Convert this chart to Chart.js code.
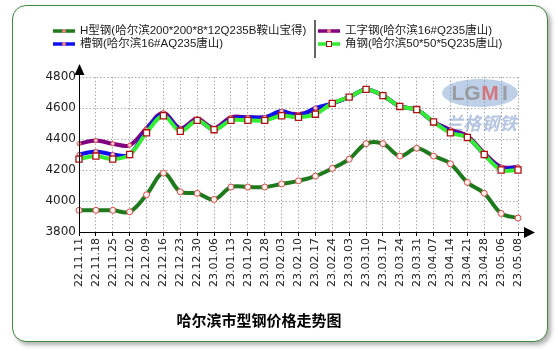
<!DOCTYPE html>
<html lang="zh">
<head>
<meta charset="UTF-8">
<title>哈尔滨市型钢价格走势图</title>
<style>
  html, body { margin: 0; padding: 0; background: #fff; }
  #frame {
    position: absolute; left: 12px; top: 5px; width: 536px; height: 337px;
    box-sizing: border-box; border: 1.5px solid #3c8a3c; border-radius: 14px;
    box-shadow: 3px 3px 4px #b0b0b0; background: #fff;
  }
  #wrap { position: absolute; left: 0; top: 0; width: 558px; height: 351px; }
</style>
</head>
<body>
<div id="frame"></div>
<div id="wrap"><canvas id="chart" width="558" height="351"></canvas></div>

<script src="https://cdn.jsdelivr.net/npm/chart.js@4.4.0/dist/chart.umd.min.js"></script>
<script>
var labels = ['22.11.11','22.11.18','22.11.25','22.12.02','22.12.09','22.12.16','22.12.23','22.12.30',
  '23.01.06','23.01.13','23.01.20','23.01.28','23.02.03','23.02.10','23.02.17','23.02.24',
  '23.03.03','23.03.10','23.03.17','23.03.24','23.03.31','23.04.07','23.04.14','23.04.21',
  '23.04.28','23.05.06','23.05.08'];

var hBeam   = [3940,3940,3940,3930,4040,4180,4060,4050,4010,4090,4090,4090,4110,4130,4160,4210,4270,4370,4370,4290,4340,4290,4240,4120,4050,3920,3890];
var iBeam   = [4370,4390,4370,4360,4470,4570,4470,4530,4470,4540,4540,4540,4570,4560,4590,4630,4670,4720,4680,4610,4590,4510,4460,4420,4310,4220,4220];
var channel = [4300,4320,4300,4300,4460,4560,4460,4520,4460,4530,4540,4540,4580,4550,4600,4630,4670,4720,4680,4610,4590,4510,4450,4410,4300,4210,4220];
var angle   = [4270,4290,4270,4300,4440,4550,4450,4520,4460,4520,4520,4520,4550,4540,4560,4630,4670,4720,4680,4610,4590,4510,4440,4410,4300,4200,4200];

var names = ['H型钢(哈尔滨200*200*8*12Q235B鞍山宝得)', '工字钢(哈尔滨16#Q235唐山)', '槽钢(哈尔滨16#AQ235唐山)', '角钢(哈尔滨50*50*5Q235唐山)'];
var yTicks = [3800, 4000, 4200, 4400, 4600, 4800];

function series(label, data, color, order, style) {
  var ds = {
    label: label, data: data, borderColor: color, borderWidth: 4,
    tension: 0.35, fill: false, order: order,
    pointRadius: 2, pointBorderWidth: 1, pointBorderColor: '#e04848', pointBackgroundColor: '#ffd0d0'
  };
  if (style == 'circle') { ds.pointRadius = 3; ds.pointBackgroundColor = '#fff0f0'; }
  if (style == 'rect') {
    ds.pointStyle = 'rect'; ds.pointRadius = 4.3; ds.pointBorderWidth = 1.3;
    ds.pointBorderColor = '#b01010'; ds.pointBackgroundColor = '#ffffff';
  }
  return ds;
}

// arrows on axes, watermark, legend
var extras = {
  id: 'extras',
  beforeDatasetsDraw: function (chart) {
    var ctx = chart.ctx;
    ctx.save();
    ctx.fillStyle = 'rgba(110,150,205,0.45)';
    ctx.beginPath();
    ctx.ellipse(480, 93, 38, 14, 0, 0, Math.PI * 2);
    ctx.fill();
    ctx.font = 'bold 21px "Liberation Sans"';
    ctx.textAlign = 'center'; ctx.textBaseline = 'middle';
    ctx.fillStyle = 'rgba(150,150,150,0.9)';
    ctx.fillText('LG', 466, 94);
    ctx.fillStyle = 'rgba(220,90,90,0.75)';
    ctx.fillText('M', 490, 94);
    ctx.fillStyle = 'rgba(150,150,150,0.9)';
    ctx.fillText('I', 505, 94);
    ctx.font = 'italic bold 18px "Noto Sans CJK SC"';
    ctx.fillStyle = 'rgba(120,150,200,0.55)';
    ctx.fillText('兰格钢铁', 481, 123);
    ctx.restore();
  },
  afterDraw: function (chart) {
    var ctx = chart.ctx, a = chart.chartArea;
    ctx.save();
    ctx.strokeStyle = '#000'; ctx.fillStyle = '#000'; ctx.lineWidth = 1;
    ctx.beginPath();
    ctx.moveTo(a.left, a.bottom + 0.5); ctx.lineTo(a.right + 7, a.bottom + 0.5);
    ctx.moveTo(a.left + 0.5, a.bottom); ctx.lineTo(a.left + 0.5, a.top - 2);
    ctx.stroke();
    ctx.beginPath();
    ctx.moveTo(a.right + 6, a.bottom - 5); ctx.lineTo(a.right + 17, a.bottom + 0.5); ctx.lineTo(a.right + 6, a.bottom + 6);
    ctx.closePath(); ctx.fill();
    ctx.beginPath();
    ctx.moveTo(a.left - 4.5, a.top - 2); ctx.lineTo(a.left + 0.5, a.top - 13); ctx.lineTo(a.left + 5.5, a.top - 2);
    ctx.closePath(); ctx.fill();

    // legend, two columns
    var ds = chart.data.datasets;
    var pos = [[53, 31], [318, 31], [53, 44], [318, 44]];
    ctx.font = '11.5px "Liberation Sans", "Noto Sans CJK SC"';
    ctx.textAlign = 'left'; ctx.textBaseline = 'middle';
    [0, 1, 2, 3].forEach(function (i) {
      var x = pos[i][0], y = pos[i][1];
      ctx.strokeStyle = ds[i].borderColor; ctx.lineWidth = 3.5;
      ctx.beginPath(); ctx.moveTo(x, y); ctx.lineTo(x + 22, y); ctx.stroke();
      if (ds[i].pointStyle == 'rect') {
        ctx.fillStyle = '#fff'; ctx.strokeStyle = '#b01010'; ctx.lineWidth = 1;
        ctx.fillRect(x + 8.5, y - 2.5, 5, 5); ctx.strokeRect(x + 8.5, y - 2.5, 5, 5);
      } else {
        ctx.fillStyle = '#f08080';
        ctx.beginPath(); ctx.arc(x + 11, y, 2, 0, Math.PI * 2); ctx.fill();
      }
      ctx.fillStyle = '#1a1a1a';
      ctx.fillText(ds[i].label, x + 27, y);
    });
    ctx.strokeStyle = '#333'; ctx.lineWidth = 1.5;
    ctx.beginPath(); ctx.moveTo(315, 20); ctx.lineTo(315, 58); ctx.stroke();
    ctx.restore();
  }
};

new Chart(document.getElementById('chart'), {
  type: 'line',
  data: {
    labels: labels,
    datasets: [
      series(names[0], hBeam, '#1d7a1d', 3, 'circle'),
      series(names[1], iBeam, '#800080', 2),
      series(names[2], channel, '#1010ee', 1),
      series(names[3], angle, '#33ee33', 0, 'rect')
    ]
  },
  options: {
    responsive: false,
    animation: false,
    layout: { padding: { left: 0, right: 40, top: 77, bottom: 19 } },
    plugins: {
      legend: { display: false },
      tooltip: { enabled: false },
      title: {
        display: true, position: 'bottom', text: '哈尔滨市型钢价格走势图',
        color: '#000', font: { family: '"Noto Sans CJK SC"', size: 15, weight: 'bold', lineHeight: 1.2 },
        padding: { top: 9, bottom: 3 }
      }
    },
    scales: {
      x: {
        offset: false,
        afterFit: function (s) { s.height = 70; },
        grid: { color: '#aaa', lineWidth: 1, tickLength: 4, tickColor: '#000', tickBorderDash: [] },
        border: { display: false, dash: [1.5, 2] },
        ticks: {
          autoSkip: false, minRotation: 90, maxRotation: 90, padding: 2, color: '#222',
          font: { family: '"DejaVu Sans"', size: 11 }
        }
      },
      y: {
        min: 3800, max: 4800,
        afterFit: function (s) { s.width = 79; },
        afterBuildTicks: function (s) { s.ticks = yTicks.map(function (v) { return { value: v }; }); },
        grid: { color: '#aaa', lineWidth: 1, drawTicks: false },
        border: { display: false, dash: [1.5, 2] },
        ticks: {
          padding: 3, color: '#222', font: { family: '"DejaVu Sans"', size: 12 },
          callback: function (v) { return String(v); }
        }
      }
    }
  },
  plugins: [extras]
});
</script>
</body>
</html>
